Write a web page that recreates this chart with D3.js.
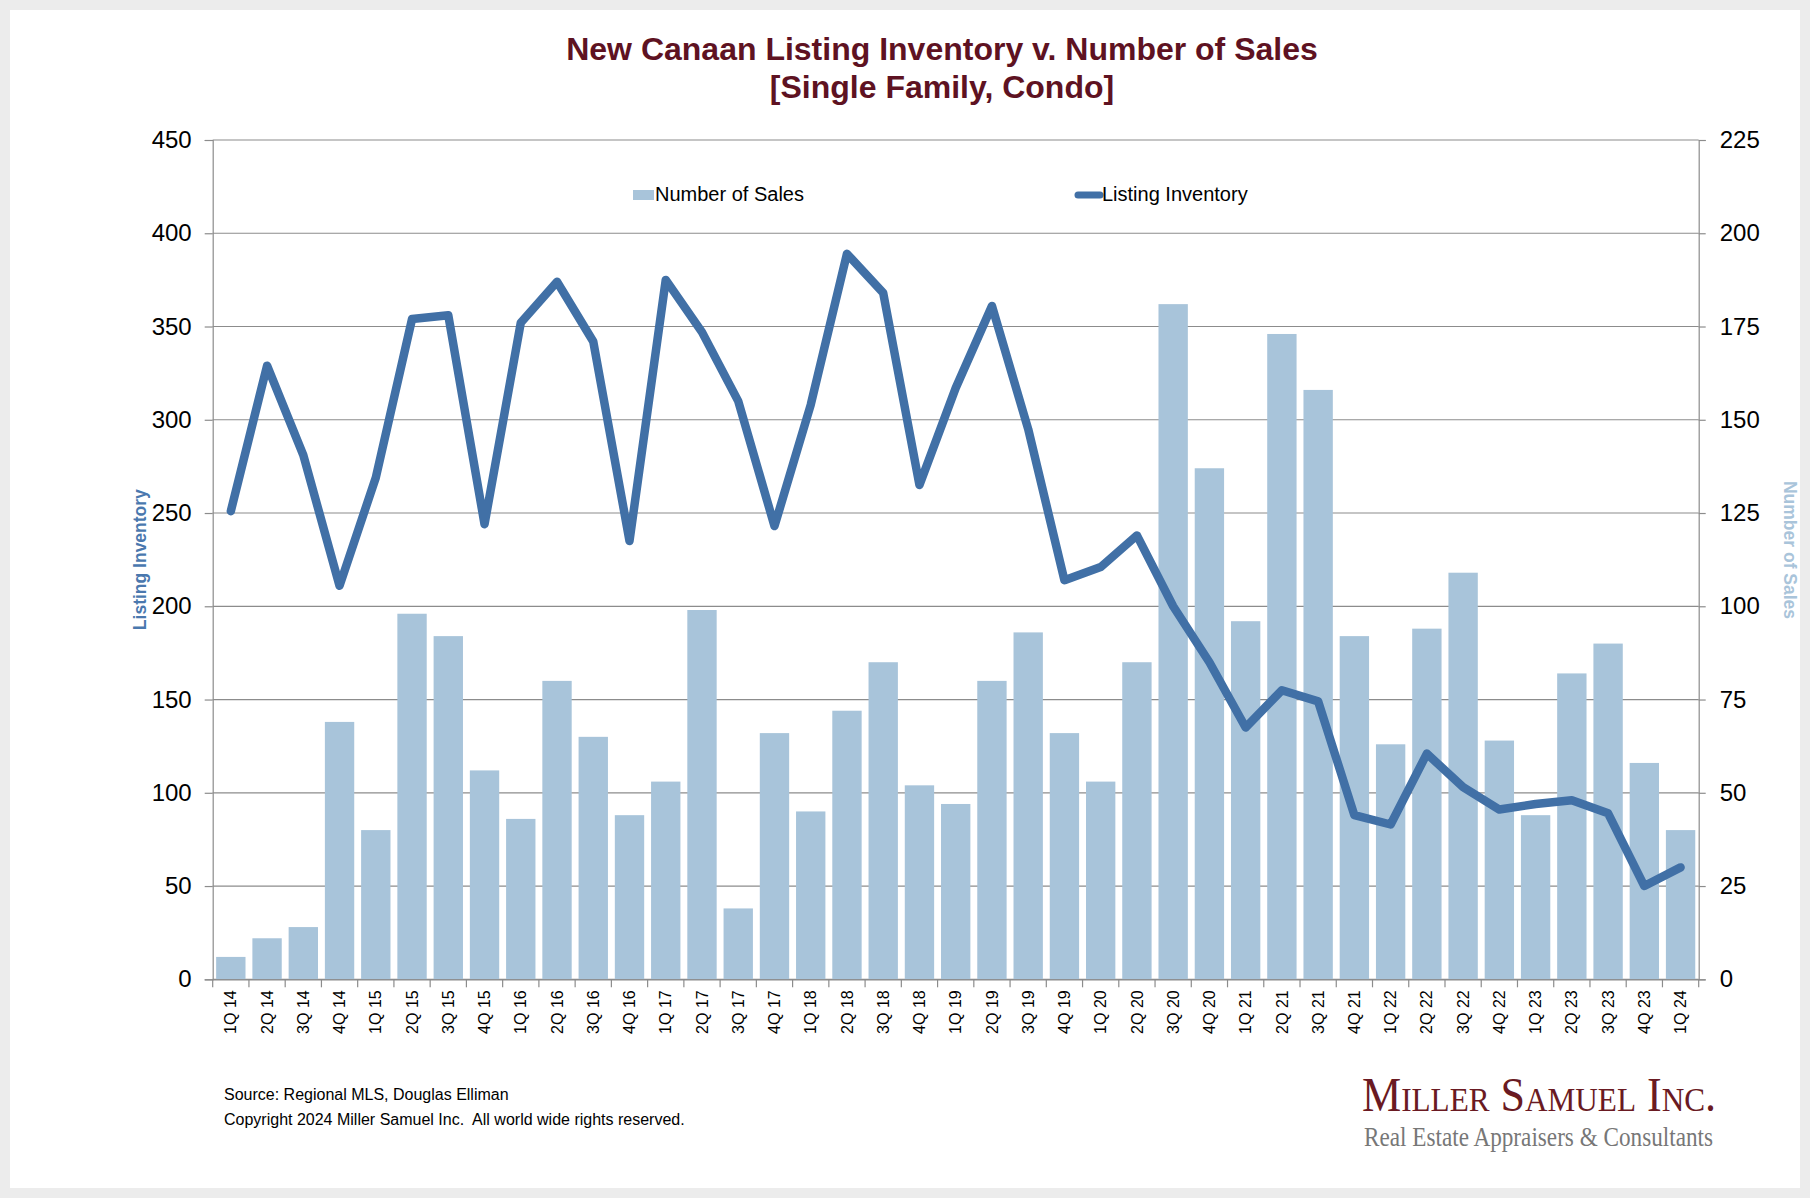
<!DOCTYPE html>
<html lang="en">
<head>
  <meta charset="UTF-8">
  <title>New Canaan Listing Inventory v. Number of Sales</title>
  <style>
    html, body { margin: 0; padding: 0; background: #ececec; }
    svg { display: block; }
    text { font-family: "Liberation Sans", Arial, sans-serif; }
  </style>
</head>
<body>
  <svg></svg>

  <script src="https://d3js.org/d3.v7.min.js"></script>
  <script>
    const quarters = ["1Q 14", "2Q 14", "3Q 14", "4Q 14", "1Q 15", "2Q 15", "3Q 15", "4Q 15",
      "1Q 16", "2Q 16", "3Q 16", "4Q 16", "1Q 17", "2Q 17", "3Q 17", "4Q 17",
      "1Q 18", "2Q 18", "3Q 18", "4Q 18", "1Q 19", "2Q 19", "3Q 19", "4Q 19",
      "1Q 20", "2Q 20", "3Q 20", "4Q 20", "1Q 21", "2Q 21", "3Q 21", "4Q 21",
      "1Q 22", "2Q 22", "3Q 22", "4Q 22", "1Q 23", "2Q 23", "3Q 23", "4Q 23", "1Q 24"];

    // Number of Sales (right axis)
    const sales = [6, 11, 14, 69, 40, 98, 92, 56, 43, 80, 65, 44, 53, 99, 19, 66,
      45, 72, 85, 52, 47, 80, 93, 66, 53, 85, 181, 137, 96, 173, 158, 92,
      63, 94, 109, 64, 44, 82, 90, 58, 40];

    // Listing Inventory (left axis)
    const inventory = [251, 329, 281, 211, 269, 354, 356, 244, 352, 374, 342, 235, 375, 347, 310, 243,
      308, 389, 368, 265, 317, 361, 295, 214, 221, 238, 200, 170, 135, 155, 149, 88,
      83, 121, 103, 91, 94, 96, 89, 50, 60];

    const leftTicks = d3.range(0, 451, 50);
    const rightTicks = d3.range(0, 226, 25);

    const width = 1810;
    const height = 1198;
    const plot = { left: 212.7, right: 1698.7, top: 140, bottom: 979.3 };

    const barColor = "#a8c4da";
    const lineColor = "#4170a6";
    const gridColor = "#8c8c8c";

    const svg = d3.select("svg")
      .attr("width", width)
      .attr("height", height);

    // background panel
    svg.append("rect")
      .attr("width", width).attr("height", height)
      .attr("fill", "#ececec");
    svg.append("rect")
      .attr("x", 10).attr("y", 10)
      .attr("width", 1790).attr("height", 1178)
      .attr("fill", "#fff");

    const x = d3.scaleBand()
      .domain(quarters)
      .range([plot.left, plot.right])
      .paddingInner(0.19)
      .paddingOuter(0.095);

    const yL = d3.scaleLinear().domain([0, 450]).range([plot.bottom, plot.top]);
    const yR = d3.scaleLinear().domain([0, 225]).range([plot.bottom, plot.top]);

    // gridlines
    svg.append("g")
      .selectAll("line")
      .data(leftTicks)
      .join("line")
      .attr("x1", plot.left).attr("x2", plot.right)
      .attr("y1", d => yL(d)).attr("y2", d => yL(d))
      .attr("stroke", gridColor)
      .attr("stroke-width", 1.2);

    // bars
    svg.append("g")
      .selectAll("rect")
      .data(sales)
      .join("rect")
      .attr("x", (d, i) => x(quarters[i]))
      .attr("y", d => yR(d))
      .attr("width", x.bandwidth())
      .attr("height", d => yR(0) - yR(d))
      .attr("fill", barColor);

    // left axis
    const gL = svg.append("g")
      .attr("transform", `translate(${plot.left},0)`)
      .call(d3.axisLeft(yL).tickValues(leftTicks).tickSize(8).tickPadding(13));
    // right axis
    const gR = svg.append("g")
      .attr("transform", `translate(${plot.right},0)`)
      .call(d3.axisRight(yR).tickValues(rightTicks).tickSize(7).tickPadding(14));

    [gL, gR].forEach(g => {
      g.select(".domain").attr("stroke", gridColor).attr("stroke-width", 1.2);
      g.selectAll(".tick line").attr("stroke", gridColor).attr("stroke-width", 1.2);
      g.selectAll(".tick text")
        .attr("fill", "#000")
        .style("font-size", "24px")
        .style("font-family", "'Liberation Sans', Arial, sans-serif");
    });

    // bottom axis: labels at centres, tick marks at category boundaries
    const gB = svg.append("g")
      .attr("transform", `translate(0,${plot.bottom})`)
      .call(d3.axisBottom(x).tickSize(0));
    gB.select(".domain").attr("stroke", gridColor).attr("stroke-width", 1.2);
    gB.selectAll(".tick text")
      .attr("transform", "rotate(-90)")
      .attr("x", -11)
      .attr("y", 0)
      .attr("dy", "0.35em")
      .attr("text-anchor", "end")
      .attr("fill", "#000")
      .style("font-size", "16px")
      .style("font-family", "'Liberation Sans', Arial, sans-serif");
    gB.selectAll("line.bound")
      .data(d3.range(quarters.length + 1))
      .join("line")
      .attr("class", "bound")
      .attr("x1", i => plot.left + i * x.step())
      .attr("x2", i => plot.left + i * x.step())
      .attr("y1", 0).attr("y2", 8)
      .attr("stroke", gridColor)
      .attr("stroke-width", 1.2);

    // inventory line
    const line = d3.line()
      .x((d, i) => x(quarters[i]) + x.bandwidth() / 2)
      .y(d => yL(d));

    svg.append("path")
      .datum(inventory)
      .attr("d", line)
      .attr("fill", "none")
      .attr("stroke", lineColor)
      .attr("stroke-width", 8.5)
      .attr("stroke-linejoin", "round")
      .attr("stroke-linecap", "round");

    // title
    const title = svg.append("text")
      .attr("text-anchor", "middle")
      .attr("fill", "#5e1222")
      .style("font-size", "32px")
      .style("font-weight", "bold");
    title.append("tspan").attr("x", 942).attr("y", 60).text("New Canaan Listing Inventory v. Number of Sales");
    title.append("tspan").attr("x", 942).attr("y", 98).text("[Single Family, Condo]");

    // legend
    svg.append("rect")
      .attr("x", 633).attr("y", 190)
      .attr("width", 21).attr("height", 10)
      .attr("fill", barColor);
    svg.append("text")
      .attr("x", 655).attr("y", 201)
      .style("font-size", "20px")
      .text("Number of Sales");
    svg.append("line")
      .attr("x1", 1078).attr("x2", 1100)
      .attr("y1", 195).attr("y2", 195)
      .attr("stroke", lineColor)
      .attr("stroke-width", 7)
      .attr("stroke-linecap", "round");
    svg.append("text")
      .attr("x", 1102).attr("y", 201)
      .style("font-size", "20px")
      .text("Listing Inventory");

    // axis titles
    svg.append("text")
      .attr("transform", `translate(146,${(plot.top + plot.bottom) / 2}) rotate(-90)`)
      .attr("text-anchor", "middle")
      .attr("fill", "#4a78ae")
      .style("font-size", "17.5px")
      .style("font-weight", "bold")
      .text("Listing Inventory");
    svg.append("text")
      .attr("transform", "translate(1784,550) rotate(90)")
      .attr("text-anchor", "middle")
      .attr("fill", "#a9c4da")
      .style("font-size", "17.5px")
      .style("font-weight", "bold")
      .text("Number of Sales");

    // source notes
    svg.append("text")
      .attr("x", 224).attr("y", 1100)
      .style("font-size", "16px")
      .text("Source: Regional MLS, Douglas Elliman");
    svg.append("text")
      .attr("x", 224).attr("y", 1125)
      .style("font-size", "16px")
      .style("white-space", "pre")
      .text("Copyright 2024 Miller Samuel Inc.  All world wide rights reserved.");

    // logo
    svg.append("text")
      .attr("x", 1362).attr("y", 1111)
      .attr("fill", "#6a1a22")
      .attr("textLength", 354)
      .attr("lengthAdjust", "spacingAndGlyphs")
      .style("font-family", "'Liberation Serif', 'DejaVu Serif', serif")
      .style("font-size", "48px")
      .style("font-variant", "small-caps")
      .text("Miller Samuel Inc.");
    svg.append("text")
      .attr("x", 1364).attr("y", 1146)
      .attr("fill", "#777")
      .attr("textLength", 349)
      .attr("lengthAdjust", "spacingAndGlyphs")
      .style("font-family", "'Liberation Serif', 'DejaVu Serif', serif")
      .style("font-size", "27px")
      .text("Real Estate Appraisers & Consultants");
  </script>
</body>
</html>
